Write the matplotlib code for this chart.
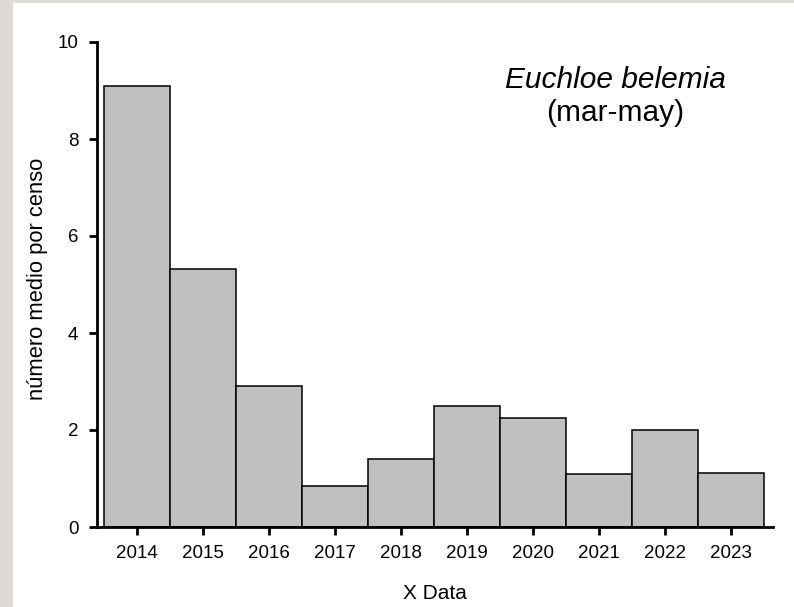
import matplotlib
matplotlib.use("Agg")
import matplotlib.pyplot as plt
from matplotlib.patches import Rectangle

years = [2014, 2015, 2016, 2017, 2018, 2019, 2020, 2021, 2022, 2023]
values = [9.10, 5.32, 2.91, 0.85, 1.40, 2.50, 2.25, 1.09, 1.99, 1.11]
y_ticks = [0, 2, 4, 6, 8, 10]
title_lines = ["Euchloe belemia", "(mar-may)"]
x_label = "X Data"
y_label = "número medio por censo"

plt.rcParams['font.family'] = ['Liberation Sans', 'DejaVu Sans']

W, H = 794, 607
fig = plt.figure(figsize=(W / 100, H / 100), dpi=100, facecolor='white')

# border strips (left and top)
fig.patches.append(Rectangle((0, 0), 13 / W, 1, transform=fig.transFigure,
                             facecolor='#dedbd6', edgecolor='none', zorder=0))
fig.patches.append(Rectangle((0, 1 - 3 / H), 1, 3 / H, transform=fig.transFigure,
                             facecolor='#dedbd6', edgecolor='none', zorder=0))

ax = fig.add_axes([96.5 / W, 1 - 527 / H, (773 - 96.5) / W, (527 - 42) / H])
ax.set_facecolor('none')

ax.bar(years, values, width=1.0, color='#c0c0c0', edgecolor='black', linewidth=1.1)

ax.set_xlim(2013.386, 2023.636)
ax.set_ylim(0, 10)
ax.set_xticks(years)
ax.set_xticklabels([str(y) for y in years])
ax.set_yticks(y_ticks)

for s in ['top', 'right']:
    ax.spines[s].set_visible(False)
for s in ['left', 'bottom']:
    ax.spines[s].set_linewidth(2.0)

ax.tick_params(axis='both', direction='out', length=6, width=2.0, labelsize=13.5)
ax.tick_params(axis='x', pad=7)
ax.tick_params(axis='y', pad=7)

ax.set_xlabel(x_label, fontsize=15, labelpad=16)
ax.set_ylabel(y_label, fontsize=15.8, va='center')
ax.yaxis.set_label_coords(-0.0865, 0.512)

fig.text(615 / W, 1 - 80 / H, title_lines[0], fontsize=21.5, style='italic',
         ha='center', va='center')
fig.text(615 / W, 1 - 113 / H, title_lines[1], fontsize=21.5,
         ha='center', va='center')

fig.savefig('out.png', dpi=100, facecolor=fig.get_facecolor())
